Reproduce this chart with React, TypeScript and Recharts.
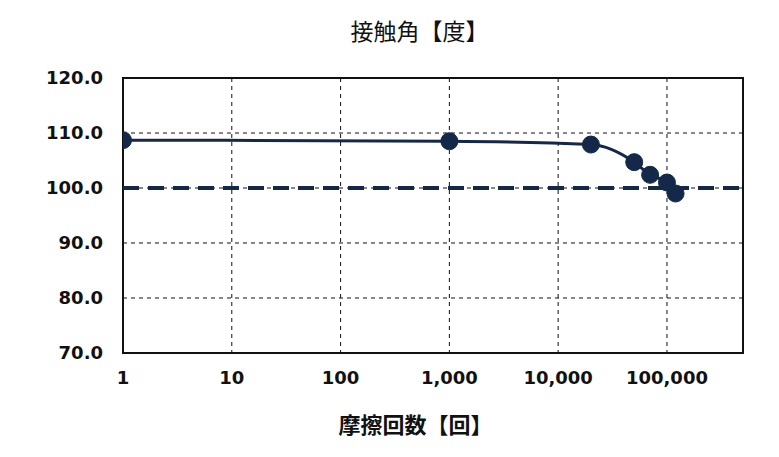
import {
  LineChart,
  Line,
  XAxis,
  YAxis,
  CartesianGrid,
  ReferenceLine,
  ReferenceArea,
} from "recharts";

const rubCounts = [1, 1000, 20000, 50000, 70000, 100000, 120000];
const contactAngles = [108.7, 108.5, 107.9, 104.7, 102.4, 101.0, 99.0];
const xTicks = [1, 10, 100, 1000, 10000, 100000];
const yTicks = [70, 80, 90, 100, 110, 120];
const threshold = 100;

const data = rubCounts.map((n, i) => ({ n, angle: contactAngles[i] }));

const navy = "#14294a";
const tickFont = { fontSize: 18, fontWeight: 700, fill: "#111", fontFamily: "DejaVu Sans" };

export default function App() {
  return (
    <div style={{ position: "absolute", left: 0, top: 0, width: 779, height: 457, background: "#fff" }}>
      <div
        style={{
          position: "absolute",
          left: 0,
          width: 779,
          top: 13,
          textAlign: "center",
          fontFamily: "Noto Sans CJK JP",
          fontSize: 23,
          paddingLeft: 60,
          boxSizing: "border-box",
          color: "#111",
        }}
      >
        接触角【度】
      </div>
      <LineChart width={779} height={457} data={data} margin={{ top: 78, right: 36, bottom: 64, left: 23 }}>
        <CartesianGrid stroke="#111" strokeDasharray="4 4" strokeWidth={1} />
        <XAxis
          dataKey="n"
          type="number"
          scale="log"
          domain={[1, 500000]}
          ticks={xTicks}
          tickFormatter={(v: number) => v.toLocaleString("en-US")}
          tick={tickFont}
          tickLine={false}
          tickSize={0}
          tickMargin={18}
          axisLine={false}
          height={40}
          allowDataOverflow
        />
        <YAxis
          type="number"
          domain={[70, 120]}
          ticks={yTicks}
          tickFormatter={(v: number) => v.toFixed(1)}
          tick={tickFont}
          tickLine={false}
          tickSize={0}
          tickMargin={20}
          axisLine={false}
          width={100}
        />
        <ReferenceLine y={threshold} stroke={navy} strokeWidth={4} strokeDasharray="16 9" />
        <ReferenceArea x1={1} x2={500000} y1={70} y2={120} fill="none" stroke="#111" strokeWidth={2} ifOverflow="visible" />
        <Line
          type="monotone"
          dataKey="angle"
          stroke={navy}
          strokeWidth={3}
          dot={{ r: 8.5, fill: navy, stroke: navy, strokeWidth: 1 }}
          isAnimationActive={false}
        />
      </LineChart>
      <div
        style={{
          position: "absolute",
          left: 0,
          width: 779,
          top: 407,
          textAlign: "center",
          fontFamily: "Noto Sans CJK JP",
          fontWeight: 700,
          fontSize: 22,
          paddingLeft: 52,
          boxSizing: "border-box",
          color: "#111",
        }}
      >
        摩擦回数【回】
      </div>
    </div>
  );
}
